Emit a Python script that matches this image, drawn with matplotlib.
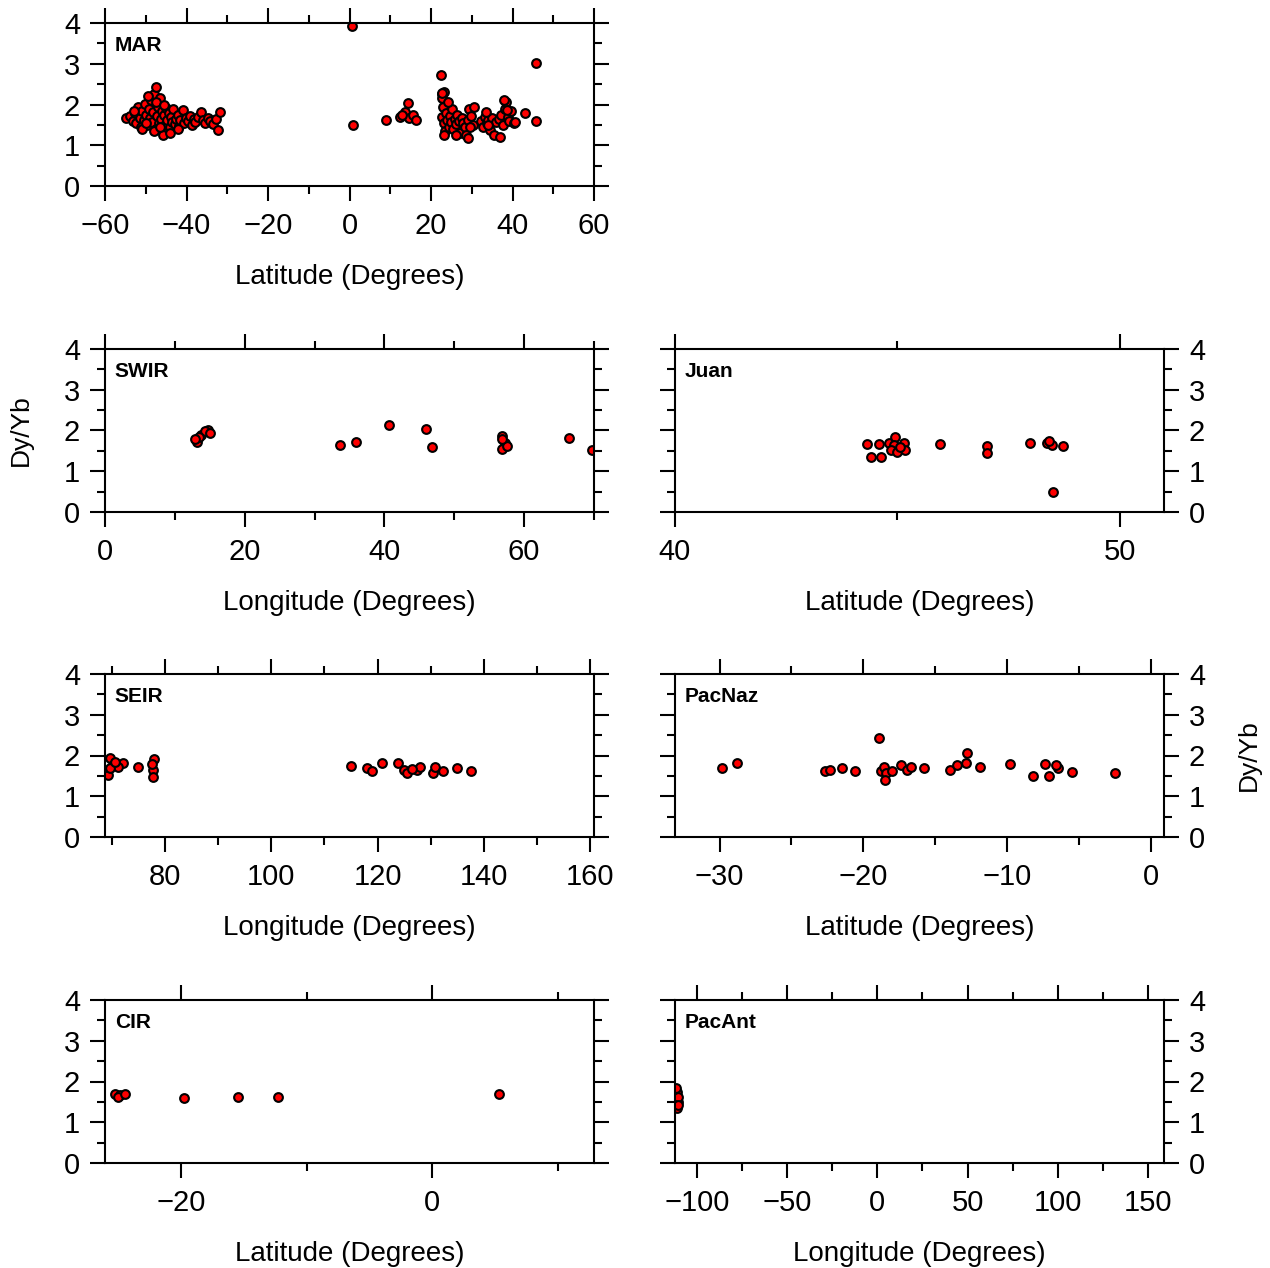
import numpy as np
import matplotlib
matplotlib.use("Agg")
import matplotlib.pyplot as plt
from matplotlib.ticker import MultipleLocator

plt.rcParams['font.family'] = ['Liberation Sans', 'DejaVu Sans']

# ---- data (x = position in degrees, y = Dy/Yb) ----
mar_x = [-54.8, -53.9, -53.2, -52.6, -52.3, -51.8, -51.5, -51.2, -50.8, -50.5,
         -50.2, -49.9, -49.6, -49.3, -49.0, -48.8, -48.5, -48.2, -47.9, -47.6,
         -47.4, -47.2, -47.0, -46.8, -46.5, -46.2, -46.0, -45.8, -45.5, -45.2,
         -45.0, -44.7, -44.4, -44.1, -43.8, -43.5, -43.2, -42.9, -42.6, -42.2,
         -41.8, -41.5, -40.9, -40.5, -40.1, -39.6, -39.2, -38.7, -38.2, -37.8,
         -37.2, -36.4, -35.9, -35.4, -34.8, -34.2, -33.5, -32.8, -32.3, -31.9,
         -53.0, -51.0, -50.0, -48.0, -46.5, -44.0, -42.0, -49.5, -47.5, -45.5,
         0.5, 0.8, 9.0, 12.3, 13.5, 14.3, 14.7, 15.5, 16.3, 13.0,
         22.5, 22.6, 22.8, 23.0, 22.7, 23.2, 23.5, 23.8, 24.0, 24.3,
         24.6, 24.9, 25.2, 25.5, 25.8, 26.1, 26.4, 26.8, 27.1, 27.5,
         27.9, 28.3, 28.7, 29.0, 29.4, 29.8, 30.2, 30.5, 23.3, 24.1,
         23.3, 26.2, 29.0, 29.6, 22.7,
         32.2, 32.8, 33.2, 33.7, 34.1, 34.6, 35.0, 35.5, 36.0, 36.6,
         37.2, 37.6, 38.1, 38.4, 38.8, 39.2, 39.7, 40.3, 37.0, 33.5,
         33.9, 38.0, 38.7, 40.6,
         43.0, 45.8, 45.8]
mar_y = [1.66, 1.72, 1.60, 1.80, 1.55, 1.95, 1.68, 1.45, 1.85, 1.62,
         2.02, 1.75, 1.50, 1.90, 1.68, 2.10, 1.58, 1.82, 2.25, 1.40,
         2.44, 1.72, 1.95, 1.55, 2.15, 1.65, 1.85, 1.25, 1.75, 1.50,
         1.92, 1.62, 1.78, 1.45, 1.70, 1.58, 1.88, 1.52, 1.65, 1.75,
         1.48, 1.62, 1.87, 1.55, 1.68, 1.60, 1.72, 1.50, 1.65, 1.58,
         1.70, 1.82, 1.62, 1.55, 1.68, 1.60, 1.52, 1.65, 1.37, 1.82,
         1.85, 1.40, 1.55, 1.35, 1.45, 1.30, 1.40, 2.20, 2.05, 2.00,
         3.93, 1.50, 1.62, 1.70, 1.82, 2.03, 1.66, 1.74, 1.62, 1.75,
         2.72, 2.25, 2.15, 1.95, 1.70, 1.55, 1.35, 1.80, 1.62, 1.45,
         1.72, 1.58, 1.88, 1.40, 1.65, 1.52, 1.75, 1.60, 1.30, 1.68,
         1.55, 1.45, 1.25, 1.62, 1.90, 1.72, 1.50, 1.95, 2.30, 2.05,
         1.25, 1.25, 1.17, 1.45, 2.27,
         1.60, 1.45, 1.70, 1.55, 1.62, 1.38, 1.68, 1.25, 1.58, 1.65,
         1.75, 1.50, 1.90, 2.05, 1.70, 1.60, 1.85, 1.55, 1.21, 1.82,
         1.50, 2.11, 1.86, 1.57,
         1.78, 3.01, 1.60]

swir_x = [13.1, 14.8, 13.8, 14.3, 13.4, 15.0, 12.9, 33.6, 36.0, 40.7,
          45.9, 46.8, 56.8, 57.2, 56.9, 57.6, 56.8, 66.4, 69.7]
swir_y = [1.73, 2.01, 1.88, 1.98, 1.84, 1.95, 1.78, 1.64, 1.73, 2.13,
          2.03, 1.60, 1.86, 1.70, 1.54, 1.62, 1.78, 1.81, 1.52]

juan_x = [44.33, 44.58, 44.42, 44.63, 44.82, 44.96, 44.93, 44.86, 45.00, 45.16,
          45.18, 45.06, 45.97, 47.01, 47.01, 47.98, 48.37, 48.48, 48.41, 48.72,
          48.50]
juan_y = [1.66, 1.66, 1.34, 1.36, 1.69, 1.85, 1.64, 1.52, 1.48, 1.69,
          1.51, 1.60, 1.66, 1.62, 1.44, 1.70, 1.69, 1.64, 1.75, 1.62,
          0.50]

seir_x = [69.6, 69.3, 70.2, 72.1, 71.2, 69.6, 70.5, 75.0, 78.0, 77.8,
          77.8, 77.5, 115.1, 118.0, 118.9, 120.8, 123.9, 124.9, 125.5, 127.4,
          128.0, 126.5, 130.5, 130.8, 132.4, 134.9, 137.6]
seir_y = [1.93, 1.52, 1.77, 1.81, 1.73, 1.69, 1.85, 1.73, 1.91, 1.65,
          1.47, 1.78, 1.74, 1.70, 1.62, 1.81, 1.81, 1.64, 1.56, 1.64,
          1.72, 1.68, 1.56, 1.72, 1.62, 1.70, 1.62]

pacnaz_x = [-29.8, -28.8, -22.7, -22.3, -21.5, -20.6, -18.9, -18.8, -18.6, -18.4,
            -18.5, -18.0, -17.4, -17.0, -16.7, -15.8, -14.0, -13.5, -12.9, -12.8,
            -11.9, -9.8, -8.2, -7.4, -7.1, -6.5, -6.6, -5.5, -2.5]
pacnaz_y = [1.69, 1.81, 1.62, 1.64, 1.69, 1.62, 2.42, 1.62, 1.72, 1.56,
            1.40, 1.62, 1.77, 1.64, 1.73, 1.70, 1.64, 1.77, 1.81, 2.05,
            1.73, 1.78, 1.50, 1.78, 1.50, 1.70, 1.76, 1.60, 1.56]

cir_x = [-25.3, -24.9, -25.1, -24.5, -19.8, -15.5, -12.3, 5.3]
cir_y = [1.69, 1.67, 1.63, 1.69, 1.59, 1.63, 1.61, 1.69]

pacant_x = [-111.0, -110.6, -111.0, -110.3, -111.5, -110.8]
pacant_y = [1.75, 1.50, 1.34, 1.63, 1.83, 1.42]

fig = plt.figure(figsize=(12.7, 12.68), dpi=100)

W = 1270.0
H = 1268.0
col_left = [105 / W, 675 / W]
col_w = 489 / W
row_bottom = [1 - 186 / H, 1 - 512 / H, 1 - 837 / H, 1 - 1163 / H]
row_h = 163 / H

# (name, x, y, row, col, xlim, major, minor, xlabel)
panels = [
    ("MAR", mar_x, mar_y, 0, 0, (-60, 60), 20, 10, "Latitude (Degrees)"),
    ("SWIR", swir_x, swir_y, 1, 0, (0, 70), 20, 10, "Longitude (Degrees)"),
    ("Juan", juan_x, juan_y, 1, 1, (40, 51), 10, 5, "Latitude (Degrees)"),
    ("SEIR", seir_x, seir_y, 2, 0, (68.7, 160.75), 20, 10, "Longitude (Degrees)"),
    ("PacNaz", pacnaz_x, pacnaz_y, 2, 1, (-33.1, 0.9), 10, 5, "Latitude (Degrees)"),
    ("CIR", cir_x, cir_y, 3, 0, (-26.1, 12.9), 20, 10, "Latitude (Degrees)"),
    ("PacAnt", pacant_x, pacant_y, 3, 1, (-112.2, 158.9), 50, 25, "Longitude (Degrees)"),
]

for name, x, y, r, c, xlim, major, minor, xlabel in panels:
    ax = fig.add_axes([col_left[c], row_bottom[r], col_w, row_h])
    ax.plot(x, y, 'o', ms=6.3, mfc='red', mec='black', mew=1.5, ls='none')
    ax.set_xlim(*xlim)
    ax.set_ylim(0, 4)
    ax.xaxis.set_major_locator(MultipleLocator(major))
    ax.xaxis.set_minor_locator(MultipleLocator(minor))
    ax.yaxis.set_major_locator(MultipleLocator(1))
    ax.yaxis.set_minor_locator(MultipleLocator(0.5))
    ax.tick_params(which='both', direction='out', top=True, right=True,
                   width=1.5, labelsize=21)
    ax.tick_params(axis='x', pad=8)
    ax.tick_params(axis='y', pad=7)
    ax.tick_params(which='major', length=11)
    ax.tick_params(which='minor', length=6)
    if c == 1:
        ax.tick_params(labelleft=False, labelright=True)
    for sp in ax.spines.values():
        sp.set_linewidth(1.5)
    ax.set_xlabel(xlabel, fontsize=20, labelpad=17)
    ax.text(0.02, 0.92, name, transform=ax.transAxes, fontsize=15,
            fontweight='bold', va='top', ha='left')
    if name == "SWIR":
        ax.set_ylabel("Dy/Yb", fontsize=19, labelpad=22)
    if name == "PacNaz":
        ax.yaxis.set_label_position('right')
        ax.set_ylabel("Dy/Yb", fontsize=19, labelpad=23)

fig.savefig("out.png", dpi=100)
